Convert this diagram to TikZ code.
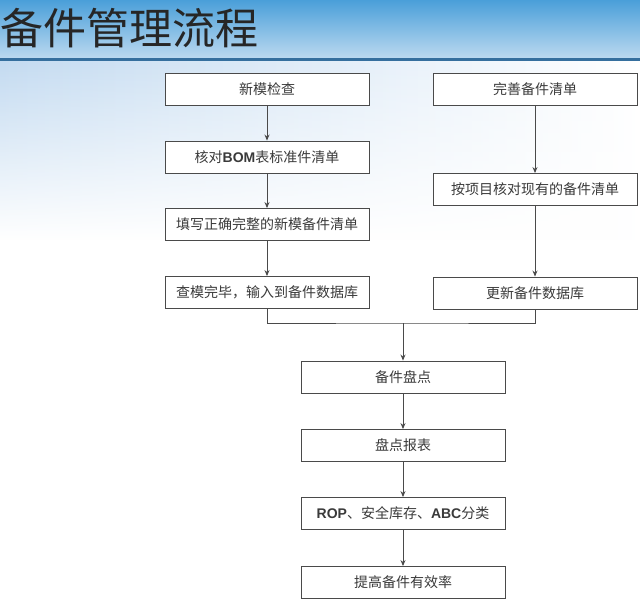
\documentclass[tikz,border=0pt]{standalone}
\usepackage{fontspec}
\setmainfont{Noto Sans CJK SC}
\newfontfamily\latin{Liberation Sans}
\usetikzlibrary{fadings, arrows.meta}
\definecolor{bandtop}{HTML}{4A9FD9}
\definecolor{bandbot}{HTML}{BBD9F0}
\definecolor{rulecol}{HTML}{356F9E}
\definecolor{sideblue}{HTML}{C4DBF1}
\definecolor{boxline}{HTML}{4A4A4A}
\definecolor{boxtext}{HTML}{3A3A3A}
\newcommand{\lt}[1]{{\latin\bfseries #1}}

\begin{document}
\begin{tikzpicture}[x=1pt, y=-1pt, >={Stealth[length=6pt, width=5pt]},
    box/.style={draw=boxline, line width=0.9pt, fill=white, minimum width=204pt, minimum height=32pt, inner sep=0pt, font=\fontsize{14}{16}\selectfont, text=boxtext},
    flow/.style={->, draw=boxline, line width=0.8pt}]
        \useasboundingbox (0,0) rectangle (640,603);
        \fill[white] (0,0) rectangle (640,603);
        \shade[top color=bandtop, bottom color=bandbot] (0,0) rectangle (640,58);
        \fill[rulecol] (0,58) rectangle (640,62);
        \shade[left color=sideblue, right color=white, path fading=south] (0,62) rectangle (640,240);
        \node[anchor=west, inner sep=0pt, font=\fontsize{43}{48}\selectfont, text=black!85] (title) at (0,28) {备件管理流程};

        \node[box] (newchk) at (267,89) {新模检查};
        \node[box] (bom) at (267,157) {核对\lt{BOM}表标准件清单};
        \node[box] (newlist) at (267,224.5) {填写正确完整的新模备件清单};
        \node[box] (input) at (267,292.5) {查模完毕，输入到备件数据库};

        \node[box] (perfect) at (535,89) {完善备件清单};
        \node[box] (proj) at (535,189.5) {按项目核对现有的备件清单};
        \node[box] (update) at (535,293) {更新备件数据库};

        \node[box] (count) at (403,377) {备件盘点};
        \node[box] (report) at (403,445.5) {盘点报表};
        \node[box] (rop) at (403,513.5) {\lt{ROP}、安全库存、\lt{ABC}分类};
        \node[box] (eff) at (403,582.5) {提高备件有效率};

        \draw[flow] (newchk) -- (bom);
        \draw[flow] (bom) -- (newlist);
        \draw[flow] (newlist) -- (input);
        \draw[flow] (perfect) -- (proj);
        \draw[flow] (proj) -- (update);

        \coordinate (join) at (403,323);
        \draw[boxline, line width=0.8pt] (input.south) |- (join) -| (update.south);
        \draw[flow] (join) -- (count);
        \draw[flow] (count) -- (report);
        \draw[flow] (report) -- (rop);
        \draw[flow] (rop) -- (eff);
    \end{tikzpicture}
\end{document}
